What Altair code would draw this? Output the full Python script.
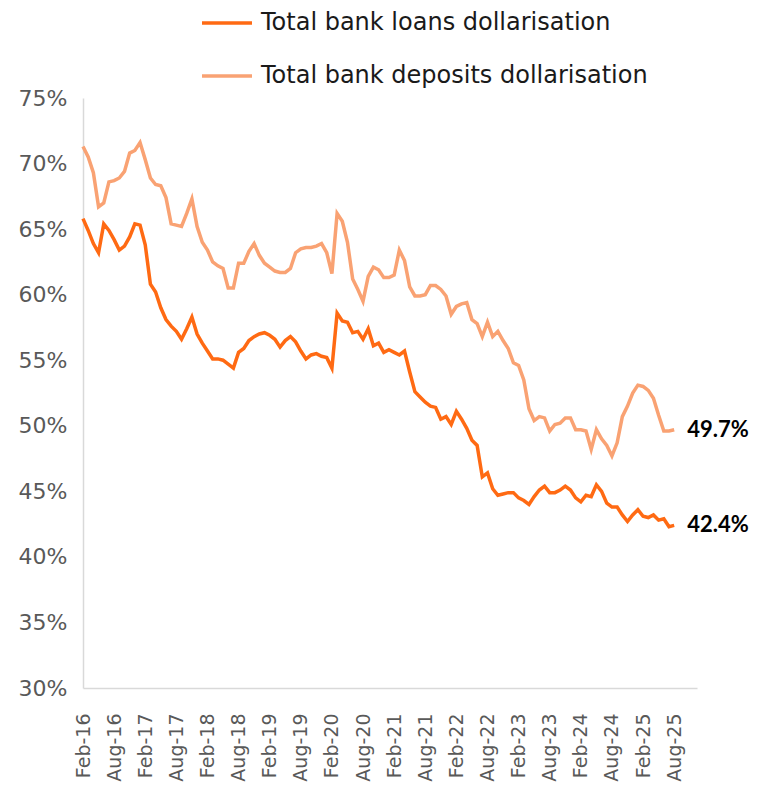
import altair as alt
import pandas as pd

series_names = ["Total bank loans dollarisation", "Total bank deposits dollarisation"]
colors = ["#FF6A13", "#F9A273"]

# Monthly observations, Feb-16 .. Aug-25 (month index 0 .. 114)
loans = [
    65.8, 64.9, 63.9, 63.2, 65.4, 64.9, 64.2, 63.4, 63.7, 64.4, 65.4, 65.3,
    63.8, 60.8, 60.2, 59.0, 58.1, 57.6, 57.2, 56.6, 57.4, 58.3, 57.0, 56.3,
    55.7, 55.1, 55.1, 55.0, 54.7, 54.4, 55.6, 55.9, 56.5, 56.8, 57.0, 57.1,
    56.9, 56.6, 56.0, 56.5, 56.8, 56.4, 55.7, 55.1, 55.4, 55.5, 55.3, 55.2,
    54.4, 58.6, 58.0, 57.9, 57.1, 57.2, 56.6, 57.4, 56.1, 56.3, 55.6, 55.8,
    55.6, 55.4, 55.7, 54.1, 52.6, 52.2, 51.8, 51.5, 51.4, 50.5, 50.7, 50.1,
    51.1, 50.5, 49.8, 48.9, 48.5, 46.1, 46.4, 45.2, 44.7, 44.8, 44.9, 44.9,
    44.5, 44.3, 44.0, 44.6, 45.1, 45.4, 44.9, 44.9, 45.1, 45.4, 45.1, 44.5,
    44.2, 44.7, 44.6, 45.5, 45.0, 44.1, 43.8, 43.8, 43.2, 42.7, 43.2, 43.6,
    43.1, 43.0, 43.2, 42.8, 42.9, 42.3, 42.4,
]

deposits = [
    71.3, 70.5, 69.3, 66.7, 67.0, 68.6, 68.7, 68.9, 69.4, 70.8, 71.0, 71.6,
    70.3, 68.9, 68.4, 68.3, 67.4, 65.4, 65.3, 65.2, 66.2, 67.3, 65.2, 64.0,
    63.4, 62.5, 62.2, 62.0, 60.5, 60.5, 62.4, 62.4, 63.3, 63.9, 63.0, 62.4,
    62.1, 61.8, 61.7, 61.7, 62.0, 63.2, 63.5, 63.6, 63.6, 63.7, 63.9, 63.2,
    61.6, 66.2, 65.6, 64.0, 61.2, 60.4, 59.5, 61.4, 62.1, 61.9, 61.3, 61.3,
    61.5, 63.4, 62.6, 60.6, 59.9, 59.9, 60.0, 60.7, 60.7, 60.4, 59.9, 58.5,
    59.1, 59.3, 59.4, 58.1, 57.8, 56.8, 57.9, 56.8, 57.2, 56.5, 55.9, 54.8,
    54.6, 53.5, 51.3, 50.4, 50.7, 50.6, 49.6, 50.1, 50.2, 50.6, 50.6, 49.7,
    49.7, 49.6, 48.2, 49.7, 49.0, 48.5, 47.7, 48.7, 50.7, 51.5, 52.5, 53.1,
    53.0, 52.7, 52.1, 50.8, 49.6, 49.6, 49.7,
]

tick_labels = [
    "Feb-16", "Aug-16", "Feb-17", "Aug-17", "Feb-18", "Aug-18", "Feb-19",
    "Aug-19", "Feb-20", "Aug-20", "Feb-21", "Aug-21", "Feb-22", "Aug-22",
    "Feb-23", "Aug-23", "Feb-24", "Aug-24", "Feb-25", "Aug-25",
]
tick_step = 6          # months between labels
x_max = 118.4          # axis runs a few months past the last observation
y_ticks = [30, 35, 40, 45, 50, 55, 60, 65, 70, 75]

n = len(loans)
idx = list(range(n))

df = pd.DataFrame({
    "month": idx + idx,
    "value": loans + deposits,
    "series": [series_names[0]] * n + [series_names[1]] * n,
})

end_labels = pd.DataFrame({
    "month": [idx[-1], idx[-1]],
    "value": [loans[-1], deposits[-1]],
    "label": [f"{loans[-1]:.1f}%", f"{deposits[-1]:.1f}%"],
})

label_array = "[" + ",".join(f"'{t}'" for t in tick_labels) + "]"

x_scale = alt.Scale(domain=[0, x_max], nice=False, zero=False)
y_scale = alt.Scale(domain=[30, 75], nice=False, zero=False)

FONT = "DejaVu Sans"

x_axis = alt.Axis(
    title=None, values=[i * tick_step for i in range(len(tick_labels))],
    tickCount=len(tick_labels) + 5,
    labelExpr=f"{label_array}[round(datum.value / {tick_step})]",
    labelAngle=270, labelFontSize=19, labelFont=FONT, labelColor="#595959",
    labelPadding=25, ticks=False, grid=False, domainColor="#D9D9D9", domainWidth=1.5,
    labelOverlap=False, labelFlush=False,
)
y_axis = alt.Axis(
    title=None, values=y_ticks, tickCount=len(y_ticks) + 2,
    labelExpr="datum.value + '%'",
    labelFontSize=22, labelFont=FONT, labelColor="#595959", labelPadding=16,
    ticks=False, grid=False, domainColor="#D9D9D9", domainWidth=1.5,
)

lines = alt.Chart(df).mark_line(strokeWidth=3.5).encode(
    x=alt.X("month:Q", scale=x_scale, axis=x_axis),
    y=alt.Y("value:Q", scale=y_scale, axis=y_axis),
    color=alt.Color(
        "series:N",
        scale=alt.Scale(domain=series_names, range=colors),
        legend=alt.Legend(
            title=None, orient="none", legendX=117, legendY=-102,
            symbolType="stroke", symbolSize=2500, symbolStrokeWidth=3.5,
            labelFontSize=24, labelFont=FONT, labelColor="#1a1a1a",
            labelOffset=7, rowPadding=14, padding=0, labelLimit=0,
        ),
    ),
)

labels = alt.Chart(end_labels).mark_text(
    align="left", baseline="middle", dx=13, fontSize=22, fontWeight="bold",
    font="Lato", color="black",
).encode(
    x=alt.X("month:Q", scale=x_scale),
    y=alt.Y("value:Q", scale=y_scale),
    text="label:N",
)

chart = alt.layer(lines, labels).properties(
    width=614, height=590,
    autosize=alt.AutoSizeParams(type="none"),
    padding={"left": 75, "top": 90, "right": 54, "bottom": 98},
).configure_view(stroke=None)

chart.save("out.html", embed_options={"renderer": "svg", "actions": False})
